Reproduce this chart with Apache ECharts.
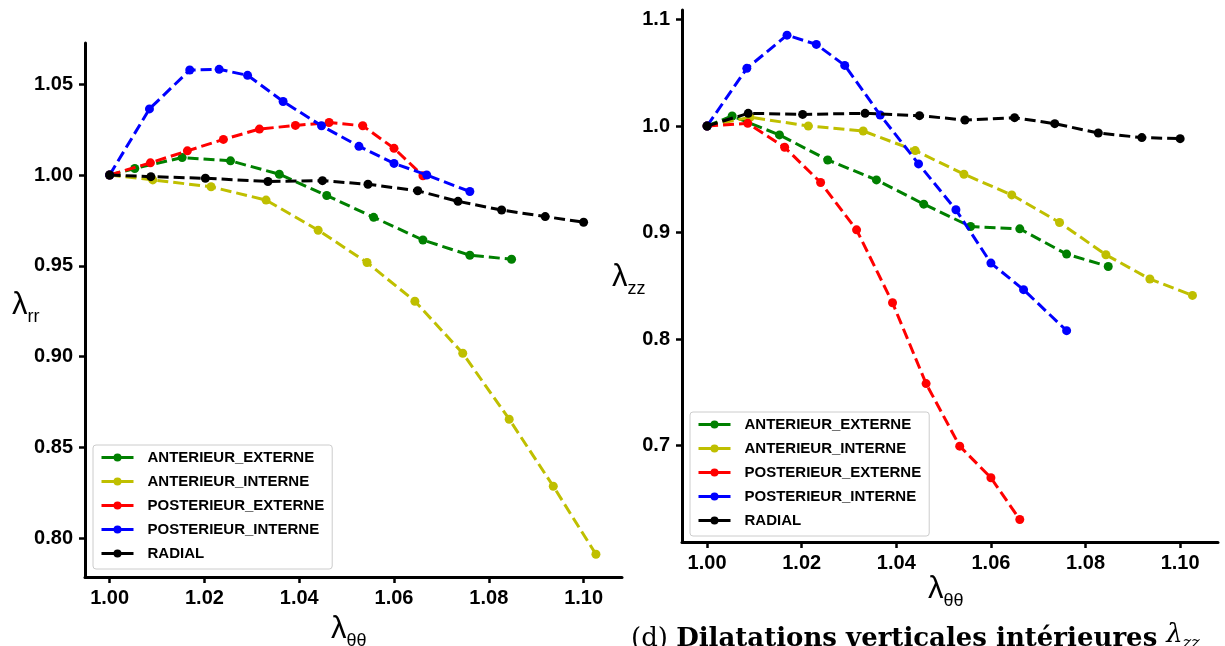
<!DOCTYPE html>
<html><head><meta charset="utf-8">
<script src="https://cdn.jsdelivr.net/npm/echarts@6/dist/echarts.min.js"></script>
<style>html,body{margin:0;padding:0;background:#fff;overflow:hidden}#c{width:1225px;height:646px}</style>
</head><body><div id="c"></div>
<script>
// ---- data ----
const seriesNames = ['ANTERIEUR_EXTERNE', 'ANTERIEUR_INTERNE', 'POSTERIEUR_EXTERNE', 'POSTERIEUR_INTERNE', 'RADIAL'];
const seriesColors = ['#008000', '#bfbf00', '#ff0000', '#0000ff', '#000000'];

// lambda_theta_theta (shared by both panels)
const xAE  = [1.000, 1.0053, 1.0153, 1.0255, 1.0358, 1.0458, 1.0557, 1.0661, 1.0760, 1.0848];
const xAI  = [1.000, 1.0091, 1.0214, 1.0330, 1.0440, 1.0543, 1.0644, 1.0745, 1.0843, 1.0936, 1.1026];
const xPE  = [1.000, 1.0086, 1.0164, 1.0240, 1.0316, 1.0392, 1.0463, 1.0534, 1.0600, 1.0661];
const xPI  = [1.000, 1.0084, 1.0169, 1.0231, 1.0291, 1.0366, 1.0447, 1.0526, 1.0600, 1.0669, 1.0760];
const xRAD = [1.000, 1.0087, 1.0202, 1.0334, 1.0449, 1.0545, 1.0650, 1.0735, 1.0827, 1.0919, 1.1000];

// lambda_rr (left panel)
const rrAE  = [1.000, 1.0036, 1.0096, 1.0078, 1.0004, 0.9887, 0.9767, 0.9642, 0.9558, 0.9536];
const rrAI  = [1.000, 0.9973, 0.9935, 0.9862, 0.9696, 0.9518, 0.9305, 0.9018, 0.8655, 0.8286, 0.7911];
const rrPE  = [1.000, 1.0067, 1.0133, 1.0196, 1.0253, 1.0273, 1.0289, 1.0271, 1.0147, 0.9996];
const rrPI  = [1.000, 1.0364, 1.0578, 1.0582, 1.0549, 1.0405, 1.0271, 1.0158, 1.0064, 1.0000, 0.9909];
const rrRAD = [1.000, 0.9991, 0.9982, 0.9964, 0.9969, 0.9949, 0.9913, 0.9855, 0.9807, 0.9771, 0.9740];

// lambda_zz (right panel)
const zzAE  = [1.000, 1.0094, 0.9916, 0.9681, 0.9494, 0.9266, 0.9056, 0.9034, 0.8797, 0.8681];
const zzAI  = [1.000, 1.0082, 1.0000, 0.9953, 0.9769, 0.9547, 0.9353, 0.9094, 0.8791, 0.8563, 0.8409];
const zzPE  = [1.000, 1.0025, 0.9800, 0.9469, 0.9025, 0.8340, 0.7581, 0.6994, 0.6697, 0.6305];
const zzPI  = [1.000, 1.0541, 1.0853, 1.0766, 1.0569, 1.0103, 0.9644, 0.9213, 0.8713, 0.8463, 0.8078];
const zzRAD = [1.000, 1.0119, 1.0109, 1.0119, 1.0097, 1.0056, 1.0078, 1.0022, 0.9934, 0.9891, 0.9881];

const xTicks  = [1.00, 1.02, 1.04, 1.06, 1.08, 1.10];
const rrTicks = [0.80, 0.85, 0.90, 0.95, 1.00, 1.05];
const zzTicks = [0.7, 0.8, 0.9, 1.0, 1.1];

const captionParts = ['(d) ', 'Dilatations verticales intérieures ', 'λ', 'zz'];

// ---- build ----
const xs  = [xAE, xAI, xPE, xPI, xRAD];
const rrs = [rrAE, rrAI, rrPE, rrPI, rrRAD];
const zzs = [zzAE, zzAI, zzPE, zzPI, zzRAD];
const pairs = (x, y) => x.map((v, i) => [v, y[i]]);

const FONT = 'Liberation Sans';
function mkSeries(panel, ys) {
  return seriesNames.map((name, i) => ({
    name, type: 'line', xAxisIndex: panel, yAxisIndex: panel,
    data: pairs(xs[i], ys[i]),
    symbol: 'circle', symbolSize: 9, showSymbol: true,
    lineStyle: { color: seriesColors[i], width: 3, type: [11, 5] },
    itemStyle: { color: seriesColors[i] },
    z: 2 + i, animation: false, silent: true
  }));
}

function xAxisCfg(grid, min, max) {
  return {
    gridIndex: grid, type: 'value', min, max,
    axisLine: { onZero: false, lineStyle: { color: '#000', width: 3 } },
    axisTick: { show: true, length: 6, inside: false, lineStyle: { color: '#000', width: 2.5 }, customValues: xTicks },
    axisLabel: { customValues: xTicks, formatter: v => v.toFixed(2), color: '#000', fontSize: 20, fontWeight: 'bold', fontFamily: FONT, margin: 11 },
    splitLine: { show: false }
  };
}
function yAxisCfg(grid, min, max, ticks, dec) {
  return {
    gridIndex: grid, type: 'value', min, max,
    axisLine: { onZero: false, lineStyle: { color: '#000', width: 3 } },
    axisTick: { show: true, length: 6, inside: false, lineStyle: { color: '#000', width: 2.5 }, customValues: ticks },
    axisLabel: { customValues: ticks, formatter: v => v.toFixed(dec), color: '#000', fontSize: 20, fontWeight: 'bold', fontFamily: FONT, margin: 12 },
    splitLine: { show: false }
  };
}
function legendCfg(left, top) {
  return {
    left, top, orient: 'vertical', data: seriesNames,
    itemWidth: 32, itemHeight: 10, itemGap: 9,
    padding: [5, 8, 8, 7],
    borderColor: '#cccccc', borderWidth: 1, borderRadius: 3,
    backgroundColor: 'rgba(255,255,255,0.85)',
    lineStyle: { type: 'solid', width: 3 },
    textStyle: { fontFamily: FONT, fontWeight: 'bold', fontSize: 15, color: '#000', padding: [0, 0, 0, 9] },
    selectedMode: false
  };
}
function lamLabel(sub, left, top) {
  return {
    type: 'text', left, top,
    style: {
      text: '{l|λ}{s|' + sub + '}',
      rich: {
        l: { fontFamily: FONT, fontSize: 31, fill: '#000', verticalAlign: 'bottom', padding: [0, 0, 5, 0] },
        s: { fontFamily: FONT, fontSize: 18, fill: '#000', verticalAlign: 'bottom' }
      }
    }
  };
}

const chart = echarts.init(document.getElementById('c'), null, { renderer: 'canvas' });
chart.setOption({
  backgroundColor: '#fff',
  animation: false,
  grid: [
    { left: 85, top: 43, width: 537, height: 534 },
    { left: 682, top: 10, width: 536, height: 532 }
  ],
  xAxis: [xAxisCfg(0, 0.9948, 1.1081), xAxisCfg(1, 0.9947, 1.1080)],
  yAxis: [yAxisCfg(0, 0.7786, 1.0727, rrTicks, 2), yAxisCfg(1, 0.6094, 1.1089, zzTicks, 1)],
  legend: [legendCfg(93, 445), legendCfg(690, 412)],
  series: [...mkSeries(0, rrs), ...mkSeries(1, zzs)],
  graphic: [
    lamLabel('rr', 12, 290),
    lamLabel('θθ', 331, 614),
    lamLabel('zz', 612, 262),
    lamLabel('θθ', 928, 574),
    {
      type: 'text', left: 631, top: 622,
      style: {
        text: '{a|' + captionParts[0] + '}{b|' + captionParts[1] + '}{c|' + captionParts[2] + '}{d|' + captionParts[3] + '}',
        rich: {
          a: { fontFamily: 'DejaVu Serif', fontSize: 26, fill: '#000', verticalAlign: 'bottom' },
          b: { fontFamily: 'DejaVu Serif', fontWeight: 'bold', fontSize: 26, fill: '#000', verticalAlign: 'bottom' },
          c: { fontFamily: 'DejaVu Serif', fontStyle: 'italic', fontSize: 26, fill: '#000', verticalAlign: 'bottom', padding: [0, 0, 4, 0] },
          d: { fontFamily: 'DejaVu Serif', fontStyle: 'italic', fontSize: 16, fill: '#000', verticalAlign: 'bottom' }
        }
      }
    }
  ]
});
</script>
</body></html>
